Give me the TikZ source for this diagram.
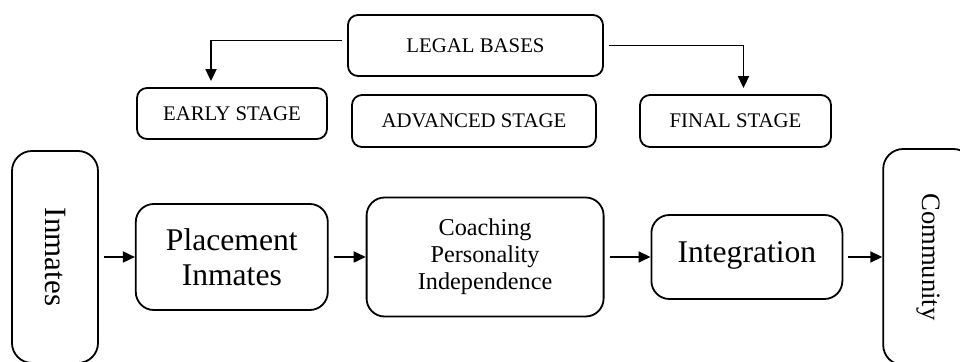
\documentclass[tikz,border=0pt]{standalone}
\usepackage{fontspec}
\usepackage{graphicx}
\setmainfont{Liberation Serif}
\usetikzlibrary{positioning, arrows.meta}

\begin{document}
\begin{tikzpicture}[x=0.5pt, y=-0.5pt, >={Triangle[length=6pt,width=5.5pt]},
    stagebox/.style={draw, line width=0.9pt, rounded corners=5pt, align=center,
        font=\fontsize{10.4}{12}\selectfont},
    flowbox/.style={draw, line width=0.9pt, rounded corners=9pt, align=center},
    sidebox/.style={draw, line width=0.9pt, rounded corners=10pt},
    flow/.style={->, line width=0.9pt, shorten <=2.5pt}]

    \useasboundingbox (0,0) rectangle (960,362);

    % upper part
    \node[stagebox, minimum width=127.5pt, minimum height=30.5pt] (legal) at (475.5,45.5) {LEGAL BASES};
    \node[stagebox, minimum width=95pt, minimum height=25.5pt] (early) at (232,113.5) {EARLY STAGE};
    \node[stagebox, minimum width=122pt, minimum height=26pt] (advanced) at (474,121) {ADVANCED STAGE};
    \node[stagebox, minimum width=95.5pt, minimum height=26pt] (final) at (735.5,121) {FINAL STAGE};

    \draw[flow, shorten >=3pt] ([yshift=2.5pt]legal.west) -| ([xshift=-10.5pt]early.north);
    \draw[flow, shorten >=3pt] (legal.east) -| ([xshift=4pt]final.north);

    % main row
    \node[sidebox, minimum width=43pt, minimum height=106pt,
          font=\fontsize{15.5}{18}\selectfont] (inmates) at (55,257) {\rotatebox{-90}{Inmates}};
    \node[flowbox, right=18pt of inmates, minimum width=96pt, minimum height=53pt,
          font=\fontsize{15.8}{17.5}\selectfont] (placement) {Placement\\Inmates};
    \node[flowbox, right=18.5pt of placement, minimum width=118.5pt, minimum height=59.5pt,
          font=\fontsize{12.1}{13.5}\selectfont] (coaching) {Coaching\\Personality\\Independence};
    \node[flowbox, right=23pt of coaching, minimum width=95.5pt, minimum height=42pt,
          font=\fontsize{15.8}{18}\selectfont] (integration) {Integration\\[-13pt]};
    \node[sidebox, right=19.5pt of integration, minimum width=45pt, minimum height=108pt,
          font=\fontsize{13.3}{16}\selectfont] (community) {\rotatebox{-90}{Community}};

    \draw[flow] (inmates) -- (placement);
    \draw[flow] (placement) -- (coaching);
    \draw[flow] (coaching) -- (integration);
    \draw[flow] (integration) -- (community);

\end{tikzpicture}
\end{document}
